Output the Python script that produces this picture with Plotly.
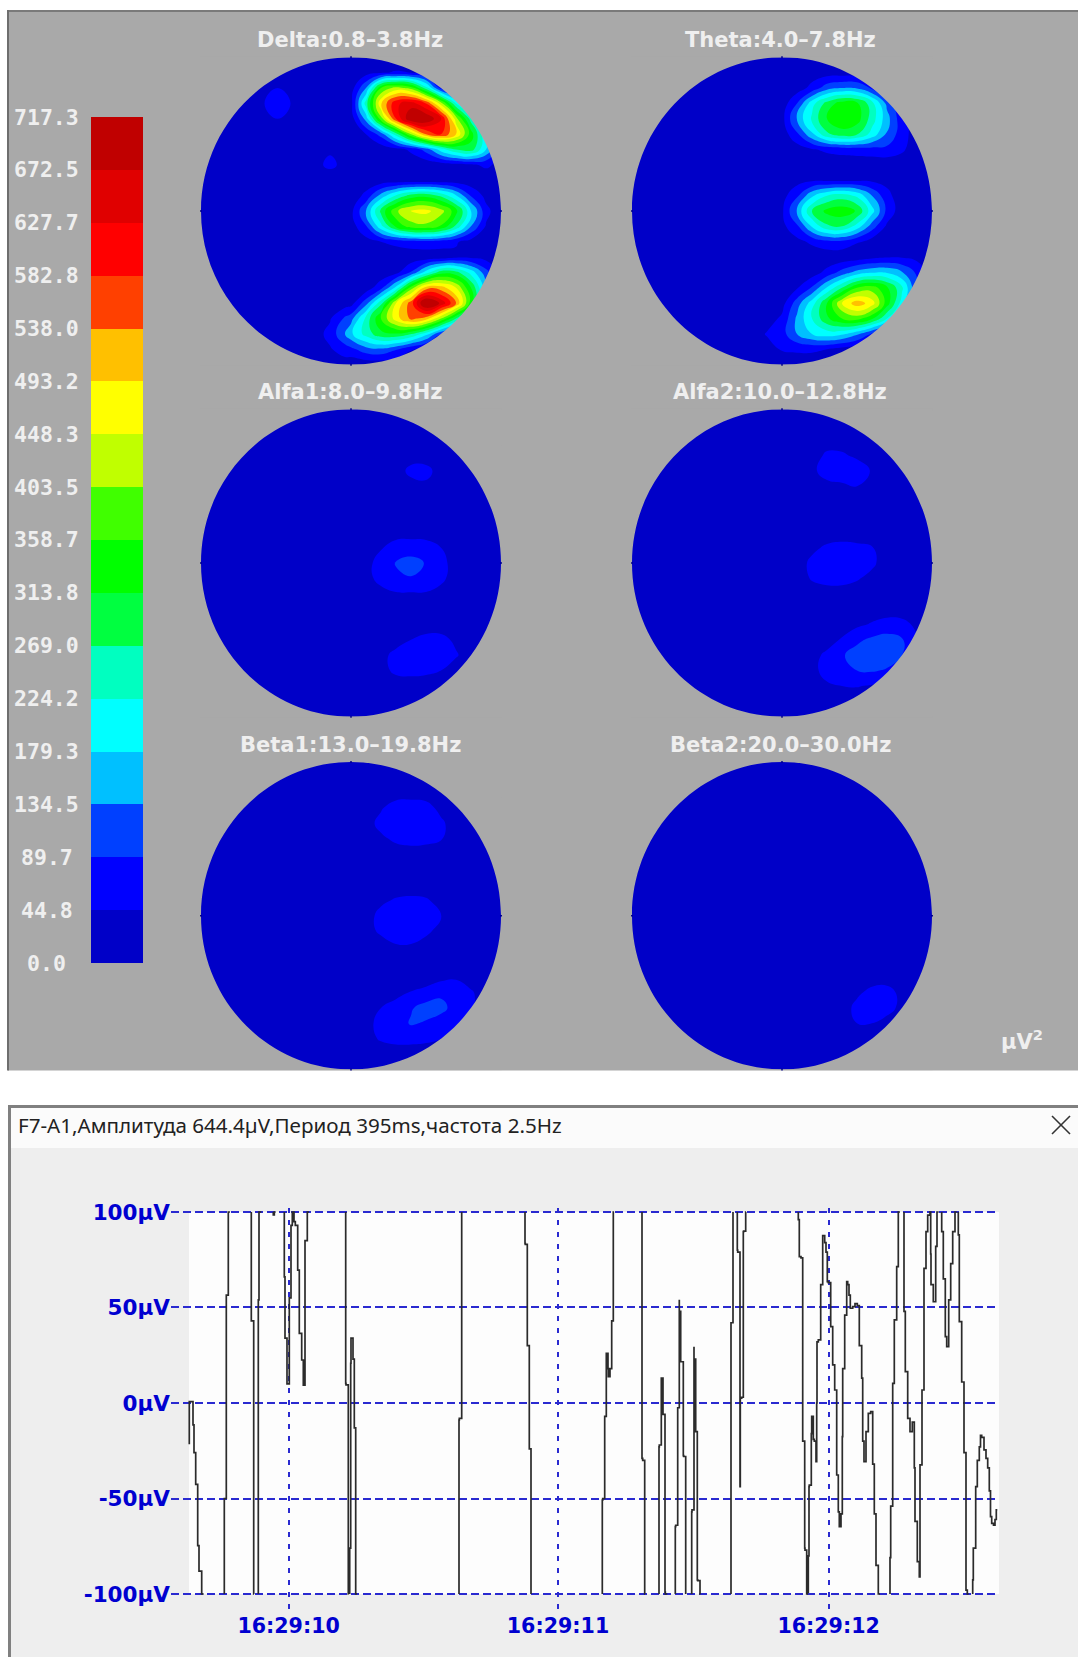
import plotly.graph_objects as go

W, H = 1078, 1657
BAND_STEP = 44.83  # one colour band, in uV^2

BAND_COLORS = ["#0000C8", "#0000FF", "#0040FF", "#00C0FF", "#00FFFF", "#00FFC0", "#00FF40", "#00FF00",
               "#40FF00", "#C0FF00", "#FFFF00", "#FFC000", "#FF4000", "#FF0000", "#E00000", "#C00000"]
LEVEL_LABELS = ["0.0", "44.8", "89.7", "134.5", "179.3", "224.2", "269.0", "313.8", "358.7",
                "403.5", "448.3", "493.2", "538.0", "582.8", "627.7", "672.5", "717.3"]
LEVEL_VALUES = [0.0, 44.8, 89.7, 134.5, 179.3, 224.2, 269.0, 313.8, 358.7,
                403.5, 448.3, 493.2, 538.0, 582.8, 627.7, 672.5, 717.3]
BAND_INDEX = list(range(16))

# Topographic maps: values, in colour-band units
delta_x = [-1, -.62, -.49, -.36, -.24, -.14, -.04, 0, .1, .2, .3, .4, .5, .6, .7, .8, .9, 1]
delta_y = [1, .9, .8, .7, .6, .5, .4, .3, .2, .1, 0, -.1, -.2, -.3, -.4, -.5, -.6, -.7, -.8, -.9, -1]
delta_z = [
 [.7, .7, .7, .7, .7, .7, .7, .3, .3, .3, .3, .3, .3, .3, .3, .3, .3, .3],
 [.7, .7, .7, .7, .7, .7, .7, .5, .6, .9, 1.1, 1.0, .6, .3, .3, .3, .3, .3],
 [.7, .7, 1.0, .7, .7, .7, .7, .5, 3, 8, 9.4, 8.6, 5.5, 1.5, .3, .3, .3, .3],
 [.7, .7, 1.6, .7, .7, .7, .7, .6, 5.5, 10.9, 13.8, 14.5, 13, 9.5, 5, .8, .3, .3],
 [.7, .7, 1.0, .7, .7, .7, .7, .4, 3.4, 8.6, 13, 16, 16, 14.1, 9.5, 5.5, 1, .3],
 [.7, .7, .7, .7, .7, .7, .7, .3, 1, 2.4, 5.5, 9, 12, 13, 11, 7.5, 4, .8],
 [.7, .7, .7, .7, .7, .85, .7, .3, .3, .3, .6, 1.2, 2.4, 4.5, 6, 6.5, 4, 1],
 [.7, .7, .7, .7, .7, 1.25, .7, .3, .3, .3, .3, .3, .3, .4, .6, .8, 1.2, .7],
 [.7, .7, .7, .7, .7, .3, .5, .3, .3, .3, .3, .3, .3, .3, .3, .3, .3, .3],
 [.5, .5, .5, .5, .5, .5, .5, .3, 1.3, 3.4, 5.1, 6.4, 6.7, 5.8, 4.1, 1.9, .7, .3],
 [.5, .5, .5, .5, .5, .5, .5, .7, 3, 6.3, 8.8, 10.1, 10.3, 9.4, 7.4, 4.2, 1.3, .3],
 [.5, .5, .5, .5, .5, .5, .5, .5, 1.9, 4.7, 7.2, 8.5, 8.7, 7.9, 5.8, 3, .9, .3],
 [.5, .5, .5, .5, .5, .5, .5, .3, .6, 1, 1.3, 1.6, 1.7, 1.5, 1.1, .6, .3, .3],
 [.5, .5, .5, .5, .5, .5, .5, .3, .3, .3, .3, .3, .3, .4, .8, .8, .6, .3],
 [.5, .5, .5, .5, .5, .5, .5, .3, .3, .3, .7, 2.1, 4.5, 6.6, 6.4, 4.6, 2.4, .5],
 [.5, .5, .5, .5, .5, .5, .5, .3, .4, 1.7, 4.3, 8.5, 11.5, 11.5, 10, 7, 3.4, .6],
 [.5, .5, .5, .5, .5, .5, .5, .6, 2.6, 5.7, 10, 12.5, 16.5, 14.8, 12, 7.5, 3, .5],
 [.5, .5, .5, .5, .5, .9, 2.2, 2.6, 5.3, 8, 10.5, 12.3, 11.5, 9, 6, 3, .5, .3],
 [.5, .5, .5, .5, .6, 1.3, 3, 3.8, 5.4, 6.7, 6.9, 6.1, 4.4, 2, .3, .3, .3, .3],
 [.5, .5, .5, .5, .5, .9, 1.5, 1.7, 2.6, 2.8, 2.1, 1.1, .4, .3, .3, .3, .3, .3],
 [.5, .5, .5, .5, .5, .5, .5, .3, .3, .3, .3, .3, .3, .3, .3, .3, .3, .3],
]

theta_x = [-1, -.2, -.1, 0, .1, .2, .3, .4, .5, .6, .7, .8, .9, 1]
theta_y = [1, .9, .8, .7, .6, .5, .4, .3, .2, .1, 0, -.1, -.2, -.3, -.4, -.5, -.6, -.7, -.8, -.9, -1]
theta_z = [
 [.3, .3, .3, .3, .3, .3, .3, .3, .3, .3, .3, .3, .3, .3],
 [.3, .3, .3, .3, .3, .5, .5, .5, .5, .5, .4, .3, .3, .3],
 [.3, .3, .3, .3, .5, 1.3, 2.6, 3, 2.9, 1.8, .8, .5, .3, .3],
 [.3, .3, .3, .4, 2, 4.6, 6.4, 7.5, 7.2, 5.4, 2.7, .8, .3, .3],
 [.3, .3, .3, .6, 3.2, 5.2, 7.1, 7.9, 7.5, 5.5, 3.4, 1.3, .5, .3],
 [.3, .3, .3, .4, 1.8, 3.8, 5.8, 6.5, 6.1, 4.6, 2.9, 1.4, .5, .3],
 [.3, .3, .3, .3, .5, .9, 1.2, 1.4, 1.5, 1.6, 1.7, 1.2, .3, .3],
 [.3, .3, .3, .3, .3, .3, .3, .3, .3, .3, .3, .3, .3, .3],
 [.3, .3, .3, .3, .6, .8, .8, .8, .8, .8, .7, .4, .3, .3],
 [.3, .3, .3, .6, 1.8, 3.8, 5, 5.5, 4.8, 3, 1.3, .4, .3, .3],
 [.3, .3, .3, .8, 3.2, 6, 7.3, 7.6, 6.9, 4.4, 1.7, .4, .3, .3],
 [.3, .3, .3, .7, 1.8, 4.1, 5.8, 6, 4.6, 2.5, .8, .3, .3, .3],
 [.3, .3, .3, .3, .7, 1.2, 1.7, 1.7, 1.1, .5, .3, .3, .3, .3],
 [.3, .3, .3, .3, .3, .3, .3, .3, .4, .7, .9, .9, .7, .3],
 [.3, .3, .3, .3, .3, .5, 1.3, 2.4, 3.4, 3.9, 3.9, 3.1, 1.8, .3],
 [.3, .3, .3, .3, .9, 2.1, 4.1, 6, 8, 8.5, 7.2, 5.2, 2, .3],
 [.3, .3, .3, .6, 2.5, 4.5, 7, 10, 11.6, 10.5, 7.5, 4.5, .8, .3],
 [.3, .3, .5, 1.2, 3.2, 5, 6.8, 8, 8.4, 7.2, 5, 2, .3, .3],
 [.3, .4, 1.1, 1.6, 3, 4, 4.5, 4.2, 3.2, 1.8, .6, .3, .3, .3],
 [.3, .3, .5, 1.1, 1.2, 1.2, 1, .6, .3, .3, .3, .3, .3, .3],
 [.3, .3, .3, .3, .3, .3, .3, .3, .3, .3, .3, .3, .3, .3],
]

alfa1_x = [-1, 0, .1, .2, .3, .4, .5, .6, .7, .8, 1]
alfa1_y = [1, .7, .6, .5, .4, .2, .1, 0, -.1, -.2, -.3, -.4, -.5, -.6, -.7, -.8, -1]
alfa1_z = [
 [.5, .5, .5, .5, .5, .5, .5, .5, .5, .5, .5],
 [.5, .5, .5, .5, .5, .5, .5, .5, .5, .5, .5],
 [.5, .5, .5, .5, .5, 1.3, 1.3, .6, .5, .5, .5],
 [.5, .5, .5, .5, .5, .6, .8, 1.0, .5, .5, .5],
 [.5, .5, .5, .5, .5, .5, .5, .5, .5, .5, .5],
 [.5, .5, .5, .5, .5, .5, .5, .5, .5, .5, .5],
 [.5, .5, .5, .9, 1.5, 1.6, 1.5, 1.0, .5, .5, .5],
 [.5, .5, .6, 1.5, 2.05, 2.3, 1.95, 1.3, .6, .5, .5],
 [.5, .5, .6, 1.4, 1.85, 1.95, 1.8, 1.2, .6, .5, .5],
 [.5, .5, .5, .6, .9, .9, .9, .7, .5, .5, .5],
 [.5, .5, .5, .5, .5, .5, .5, .5, .5, .5, .5],
 [.5, .5, .5, .5, .5, .5, .5, .5, .5, .5, .5],
 [.5, .5, .5, .5, .6, 1.0, 1.3, 1.3, .8, .5, .5],
 [.5, .5, .5, .7, 1.3, 1.5, 1.6, 1.6, 1.1, .5, .5],
 [.5, .5, .5, .7, 1.2, 1.3, 1.2, 1.0, .5, .5, .5],
 [.5, .5, .5, .5, .5, .5, .5, .5, .5, .5, .5],
 [.5, .5, .5, .5, .5, .5, .5, .5, .5, .5, .5],
]

alfa2_x = [-1, .1, .2, .3, .4, .5, .6, .7, .8, .9, 1]
alfa2_y = [1, .8, .7, .6, .5, .4, .2, .1, 0, -.1, -.2, -.3, -.4, -.5, -.6, -.7, -.8, -.9, -1]
alfa2_z = [
 [.5, .5, .5, .5, .5, .5, .5, .5, .5, .5, .5],
 [.5, .5, .5, .5, .5, .5, .5, .5, .5, .5, .5],
 [.5, .5, .5, 1.2, 1.15, .8, .5, .5, .5, .5, .5],
 [.5, .5, .7, 1.6, 1.7, 1.6, .9, .5, .5, .5, .5],
 [.5, .5, .5, .6, .8, 1, .9, .5, .5, .5, .5],
 [.5, .5, .5, .5, .5, .5, .5, .5, .5, .5, .5],
 [.5, .5, .5, .5, .5, .5, .5, .5, .5, .5, .5],
 [.5, .5, .8, 1.15, 1.3, 1.2, 1.05, .5, .5, .5, .5],
 [.5, .6, 1.2, 1.6, 1.7, 1.6, 1.2, .5, .5, .5, .5],
 [.5, .5, 1.1, 1.4, 1.4, 1.1, .7, .5, .5, .5, .5],
 [.5, .5, .5, .5, .5, .5, .5, .5, .5, .5, .5],
 [.5, .5, .5, .5, .5, .5, .5, .5, .5, .5, .5],
 [.5, .5, .5, .5, .5, .8, 1.1, 1.4, 1.3, .8, .5],
 [.5, .5, .5, .6, 1.1, 1.8, 2.2, 2.4, 2.1, 1.1, .5],
 [.5, .5, .7, 1.2, 1.9, 2.4, 2.5, 2.5, 2.0, 1.0, .5],
 [.5, .5, .8, 1.25, 1.6, 2.0, 2.1, 1.9, 1.0, .5, .5],
 [.5, .5, .5, .9, 1.0, 1.05, .9, .5, .5, .5, .5],
 [.5, .5, .5, .5, .5, .5, .5, .5, .5, .5, .5],
 [.5, .5, .5, .5, .5, .5, .5, .5, .5, .5, .5],
]

beta1_x = [-1, 0, .1, .2, .3, .4, .5, .6, .7, .8, .9, 1]
beta1_y = [1, .8, .7, .6, .5, .4, .2, .1, 0, -.1, -.2, -.3, -.4, -.5, -.6, -.7, -.8, -.9, -1]
beta1_z = [
 [.5, .5, .5, .5, .5, .5, .5, .5, .5, .5, .5, .5],
 [.5, .5, .5, .5, .5, .5, .5, .5, .5, .5, .5, .5],
 [.5, .5, .5, .9, 1.5, 1.6, 1.4, .7, .5, .5, .5, .5],
 [.5, .5, .6, 1.3, 1.7, 1.8, 1.7, 1.2, .5, .5, .5, .5],
 [.5, .5, .5, .8, 1.2, 1.4, 1.3, 1.05, .6, .5, .5, .5],
 [.5, .5, .5, .5, .5, .5, .5, .5, .5, .5, .5, .5],
 [.5, .5, .5, .5, .5, .5, .5, .5, .5, .5, .5, .5],
 [.5, .5, .5, .8, 1.1, 1.2, 1.1, .7, .5, .5, .5, .5],
 [.5, .5, .6, 1.3, 1.6, 1.7, 1.5, 1.05, .5, .5, .5, .5],
 [.5, .5, .6, 1.2, 1.5, 1.5, 1.2, .7, .5, .5, .5, .5],
 [.5, .5, .5, .5, .9, .9, .6, .5, .5, .5, .5, .5],
 [.5, .5, .5, .5, .5, .5, .5, .5, .5, .5, .5, .5],
 [.5, .5, .5, .5, .5, .5, .5, .7, .9, .6, .5, .5],
 [.5, .5, .5, .5, .7, 1.05, 1.3, 1.8, 1.5, 1.1, .6, .5],
 [.5, .5, .5, 1.0, 1.4, 1.9, 2.4, 2.3, 1.6, 1.1, .5, .5],
 [.5, .5, .8, 1.2, 1.5, 2.1, 1.9, 1.5, 1.1, .6, .5, .5],
 [.5, .5, .7, 1.1, 1.3, 1.3, 1.2, 1.0, .6, .5, .5, .5],
 [.5, .5, .5, .5, .5, .5, .5, .5, .5, .5, .5, .5],
 [.5, .5, .5, .5, .5, .5, .5, .5, .5, .5, .5, .5],
]

beta2_x = [-1, .3, .4, .5, .6, .7, .8, 1]
beta2_y = [1, -.4, -.5, -.6, -.7, -.8, -1]
beta2_z = [
 [.5, .5, .5, .5, .5, .5, .5, .5],
 [.5, .5, .5, .5, .5, .5, .5, .5],
 [.5, .5, .5, .8, 1.3, 1.4, .7, .5],
 [.5, .5, .5, 1.3, 1.6, 1.4, .7, .5],
 [.5, .5, .6, 1.0, 1.0, .6, .5, .5],
 [.5, .5, .5, .5, .5, .5, .5, .5],
 [.5, .5, .5, .5, .5, .5, .5, .5],
]

MAP_TITLES = ["Delta:0.8\u20133.8Hz", "Theta:4.0\u20137.8Hz", "Alfa1:8.0\u20139.8Hz",
              "Alfa2:10.0\u201312.8Hz", "Beta1:13.0\u201319.8Hz", "Beta2:20.0\u201330.0Hz"]
MAP_X = [delta_x, theta_x, alfa1_x, alfa2_x, beta1_x, beta2_x]
MAP_Y = [delta_y, theta_y, alfa1_y, alfa2_y, beta1_y, beta2_y]
MAP_Z = [delta_z, theta_z, alfa1_z, alfa2_z, beta1_z, beta2_z]

# EEG trace, one sample per 1/270 s. None = clipped outside +-100 uV
sample_no = [
 .3, .3, 2.7, 4, 5, 6.7, 8.7, 10, 12.7, 14.7, None, 35.3, 35.3, 37.3, 39.3, 41, None, 62.3, 62.3, 64.7, 65, None,
 69.3, 70, 72.3, None, 84.3, 85.3, 86.7, None, 95.3, 96, 98, 100.3, 102, 103.3, 105, 106.3, 108.7, 110.3, 112.7,
 114.3, 116, 116, 118.3, 120, None, 156.7, 157, 159.3, 159.7, None, 160.7, 161.7, 162, 164, 165.3, 166.7, 168, None,
 270, 270.3, 272.7, 272.7, None, 336, 336.3, 338.3, 338.3, 340.3, 340.3, 342, 342, None,
 413.3, 413.7, 415.7, 415.7, 417.3, 417.3, 419, 419.3, 421, 422.7, 422.7, 424.3, 425, None,
 453, 453.7, 455.7, 456, None, 470, 470.3, 472.3, 472.3, 474, 474, 476, 476.3, 478.3, None,
 486.3, 486.7, 488.7, 488.7, 490.3, 490.3, 491.7, 492, 494.3, 494.7, 496.7, 496.7, None,
 502.7, 503, 505, 505, 506.7, 506.7, 508.3, 508.7, 511, 511.3, None,
 542, 542, 544, 544, None, 548.3, 548.7, 551, 551.3, 552.7, 554.3, 554.7, 556.7, 557, None,
 609.3, 610.3, 612, 613.7, 613.7, 615.7, 616, 617.7, 618.3, 619.3, 620, 620.3, 622.3, 622.7, 624.3, 625.3, 627, 627.7,
 628, 629.3, 631.7, 631.7, 633.7, 633.7, 635.7, 637, 638.3, 639.3, 641.7, 641.7, 643.7, 645.7, 647.7, 649.3, 650.3,
 652, 653.3, 653.7, 655.7, 657.7, 658.7, 660, 661.3, 663.7, 666, 668.3, 670.3, 670.3, 672.7, 673.7, 675, 677, 679.3,
 681.7, 683.7, 685.3, 687, 689.3, 691, None, 701, 701.7, 703.7, 705.3, 707.7, 709.3, 711, None,
 715, 716.3, 718.7, 721, 723.3, 725.3, 726, 728.3, 730.3, 731, 731, 733, 735, 737, 738.7, 741, 741.7, 742, 744.3,
 746.7, 748, 749.7, None, 752.7, 754.3, 756.3, 757.7, 759.7, 761.7, 763.7, 766, 767.7, None,
 769.3, 770.3, 772.7, 775, 777, 778.3, 779.7, None, 783.7, 784.3, 786.7, 788.3, 790.3, 791.5, 792.7, 795, 797, 798.7,
 800.3, 801.5, 802.7, 804.5, 806, 807.3, 808.3,
]
amplitude_uv = [
 -21.6, -6.3, .7, .7, -11.5, -26, -42.6, -74.7, -88, -100, None, -100, -93.5, -50, 56.5, 100, None, 100, 43.5, 43, -100, None,
 -100, 54, 100, None, 100, 98.5, 100, None, 100, 66, 34, 10, 55, 93, 100, 95, 93, 69.6, 36.5,
 22.5, 9.4, 42.6, 85, 100, None, 100, 10.3, 9.5, -100, None, -100, -76, 20.8, 34, 23, -13, -100, None,
 -100, -9, -8, 100, None, 100, 83.6, 83, 31.8, 30, -23, -24, -100, None,
 -100, -50.8, -50, -8, -7, 18, 26, 18, 13.8, 18, 42.6, 43, 100, None,
 100, -29, -30, -100, None, -100, -23, -22, 8.5, 13, -5, -6, -99, -100, None,
 -100, -64.7, -64, -3, -2.5, 54, 48, 21.6, 21.6, -27.6, -28, -100, None,
 -100, -57, -56, 29.5, 23, -15, -15, -92.6, -93, -100, None,
 -100, 41.7, 42, 100, None, 100, 80, 79, -43.8, 2.5, 3, 89.7, 90, 100, None,
 100, 96, 76.6, 76, -19.4, -20, -76, -77, -100, -99, -80, -43.8, -43, -16, -7, -19, -20, -30.7,
 0, 32, 33, 62, 62, 86, 87.6, 84, 79, 63.5, 63, 52, 40, 20, 6.8, -37.7, -57,
 -64.7, -58, -17.6, 18, 46, 63.5, 62, 56.5, 49.6, 50.5, 52, 51, 31, 30, 13, -20, -30.7, -15,
 -5.4, -4.5, -32, -58, -85, -100, None, -100, -81, -54, 10.3, 43.5, 71.4, 100, None,
 100, 48, 16.4, -8, -15, -10, -34, -62, -83, -91, -67, -32.4, 6.8, 70.5, 89.7, 98.4, 100, 78, 62,
 53, 82, 100, None, 100, 89.7, 65, 34.7, 29.5, 54, 73, 89.7, 100, None,
 100, 88, 42.6, 11, -26, -98, -100, None, -100, -92.6, -76, -43.8, -30, -23, -17, -18, -24.5, -29,
 -34, -46, -59.5, -63, -64, -61, -56,
]
y_ticks = [100, 50, 0, -50, -100]
y_tick_labels = ["100\u00b5V", "50\u00b5V", "0\u00b5V", "-50\u00b5V", "-100\u00b5V"]
x_tick_samples = [99.6, 369, 639.6]
x_tick_labels = ["16:29:10", "16:29:11", "16:29:12"]
HEADER = "F7-A1,\u0410\u043c\u043f\u043b\u0438\u0442\u0443\u0434\u0430 644.4\u00b5V,\u041f\u0435\u0440\u0438\u043e\u0434 395ms,\u0447\u0430\u0441\u0442\u043e\u0442\u0430 2.5Hz"

GRAY = "#A9A9A9"
TXT = "#EFEFEF"
BLUE = "#0000D0"
GRID = "#2A2AD0"
scale = [[k / 15, c] for k, c in enumerate(BAND_COLORS)]


def px(x):
    return x / W


def py(y):
    return 1 - y / H


def rect(x0, y0, x1, y1, color):
    return dict(type="rect", xref="paper", yref="paper", x0=px(x0), x1=px(x1), y0=py(y0), y1=py(y1),
                fillcolor=color, line_width=0, layer="below")


fig = go.Figure()
shapes = [
    rect(8, 11, W, 1070.5, GRAY), rect(7, 10, W, 12, "#7A7A7A"), rect(7, 10, 9, 1070.5, "#6E6E6E"),
    rect(8, 1105, W, 1657, "#EEEEEE"), rect(8, 1108, W, 1148, "#FBFBFB"),
    rect(8, 1105, W, 1108, "#808080"), rect(8, 1105, 11, 1657, "#808080"),
    rect(189, 1212, 999, 1594, "#FDFDFD"),
]
annotations = []
layout = dict(
    template="none",
    width=W, height=H, autosize=False, margin=dict(l=0, r=0, t=0, b=0, pad=0),
    paper_bgcolor="white", plot_bgcolor="rgba(0,0,0,0)", showlegend=False,
)

CENTERS = [(351, 211), (782, 211), (351, 563), (782, 563), (351, 915.7), (782, 915.7)]
TITLE_X = [350, 780, 350, 780, 350, 780]
TITLE_Y = [40, 40, 392, 392, 745, 745]
RX, RY = 150, 153.7
PAD = 1.006
K = 0.5523
circle = (f"M -1 0 C -1 {K} -{K} 1 0 1 C {K} 1 1 {K} 1 0 C 1 -{K} {K} -1 0 -1 C -{K} -1 -1 -{K} -1 0 Z")

for i, (cx, cy) in enumerate(CENTERS):
    n = i + 1
    xa, ya = f"x{n}", f"y{n}"
    key = "" if n == 1 else str(n)
    layout[f"xaxis{key}"] = dict(domain=[px(cx - RX * PAD), px(cx + RX * PAD)], range=[-PAD, PAD], visible=False,
                                 fixedrange=True, automargin=False)
    layout[f"yaxis{key}"] = dict(domain=[py(cy + RY * PAD), py(cy - RY * PAD)], range=[-PAD, PAD], visible=False,
                                 fixedrange=True, automargin=False)
    z = [[v * BAND_STEP for v in row] for row in MAP_Z[i]]
    fig.add_trace(go.Contour(
        x=MAP_X[i], y=MAP_Y[i], z=z, xaxis=xa, yaxis=ya, colorscale=scale, showscale=False, autocontour=False,
        contours=dict(start=BAND_STEP, end=15 * BAND_STEP, size=BAND_STEP, coloring="fill", showlines=False),
        line=dict(width=0, smoothing=1.3), hoverinfo="skip",
    ))
    shapes.append(dict(
        type="path", xref=xa, yref=ya, layer="above", fillcolor=GRAY, fillrule="evenodd", line_width=0,
        path=f"M {-PAD} {-PAD} L {PAD} {-PAD} L {PAD} {PAD} L {-PAD} {PAD} Z " + circle,
    ))
    for (a, b, c, d) in [(cx - RX - 1, cy, cx - RX + 1, cy), (cx + RX - 1, cy, cx + RX + 1, cy),
                         (cx, cy - RY - 1, cx, cy - RY + 1), (cx, cy + RY - 1, cx, cy + RY + 1)]:
        shapes.append(dict(type="line", xref="paper", yref="paper", x0=px(a), y0=py(b), x1=px(c), y1=py(d),
                           line=dict(color="#000090", width=1.5), layer="above"))
    annotations.append(dict(xref="paper", yref="paper", x=px(TITLE_X[i]), y=py(TITLE_Y[i]), text=MAP_TITLES[i],
                            showarrow=False, xanchor="center", yanchor="middle",
                            font=dict(family="DejaVu Sans", size=21, color=TXT, weight="bold")))

# colour bar
layout["xaxis7"] = dict(domain=[px(91), px(143)], range=[0, 1], visible=False, fixedrange=True, automargin=False)
layout["yaxis7"] = dict(domain=[py(963), py(117)], range=[0, 717.3], visible=False, fixedrange=True, automargin=False)
fig.add_trace(go.Heatmap(x=[0, 1], y=LEVEL_VALUES, z=[[b] for b in BAND_INDEX], xaxis="x7", yaxis="y7",
                         colorscale=scale, zmin=0, zmax=15, showscale=False, hoverinfo="skip"))
for lab, val in zip(LEVEL_LABELS, LEVEL_VALUES):
    annotations.append(dict(xref="paper", yref="y7", x=px(47), y=val, text=lab, showarrow=False,
                            xanchor="center", yanchor="middle",
                            font=dict(family="DejaVu Sans Mono", size=21.5, color=TXT, weight="bold")))

annotations.append(dict(xref="paper", yref="paper", x=px(1022), y=py(1040), text="\u00b5V<sup>2</sup>", showarrow=False,
                        xanchor="center", yanchor="middle",
                        font=dict(family="DejaVu Sans", size=21, color=TXT, weight="bold")))

# EEG trace panel
layout["xaxis8"] = dict(domain=[px(171), px(999)], range=[-18, 810], anchor="y8", fixedrange=True, automargin=False,
                        tickmode="array", tickvals=x_tick_samples, ticktext=x_tick_labels, zeroline=False,
                        showline=False, showgrid=True, gridcolor=GRID, griddash="5px,7px", gridwidth=2,
                        ticks="", tickfont=dict(family="DejaVu Sans", size=20.6, color=BLUE, weight="bold"))
layout["yaxis8"] = dict(domain=[py(1611), py(1208)], range=[-108.9, 102.09], anchor="x8", fixedrange=True, automargin=False,
                        tickmode="array", tickvals=y_ticks, ticktext=y_tick_labels, zeroline=False,
                        showline=False, showgrid=True, gridcolor=GRID, griddash="8px,4px", gridwidth=2,
                        ticks="", tickfont=dict(family="DejaVu Sans", size=21.5, color=BLUE, weight="bold"))
fig.add_trace(go.Scatter(x=sample_no, y=amplitude_uv, xaxis="x8", yaxis="y8", mode="lines", connectgaps=False,
                         line=dict(color="#2B2B2B", width=1.7, shape="vh"), hoverinfo="skip"))

annotations.append(dict(xref="paper", yref="paper", x=px(16), y=py(1125), text=HEADER, showarrow=False,
                        xanchor="left", yanchor="middle", font=dict(family="Noto Sans", size=20.6, color="#222222")))
for (a, b, c, d) in [(1052, 1116, 1070, 1134), (1052, 1134, 1070, 1116)]:
    shapes.append(dict(type="line", xref="paper", yref="paper", x0=px(a), y0=py(b), x1=px(c), y1=py(d),
                       line=dict(color="#333333", width=1.6), layer="above"))

layout["shapes"] = shapes
layout["annotations"] = annotations
fig.update_layout(**layout)
fig.write_html("out.html", config=dict(displayModeBar=False),
               post_script="document.body.style.margin='0';document.body.style.overflow='hidden';")
